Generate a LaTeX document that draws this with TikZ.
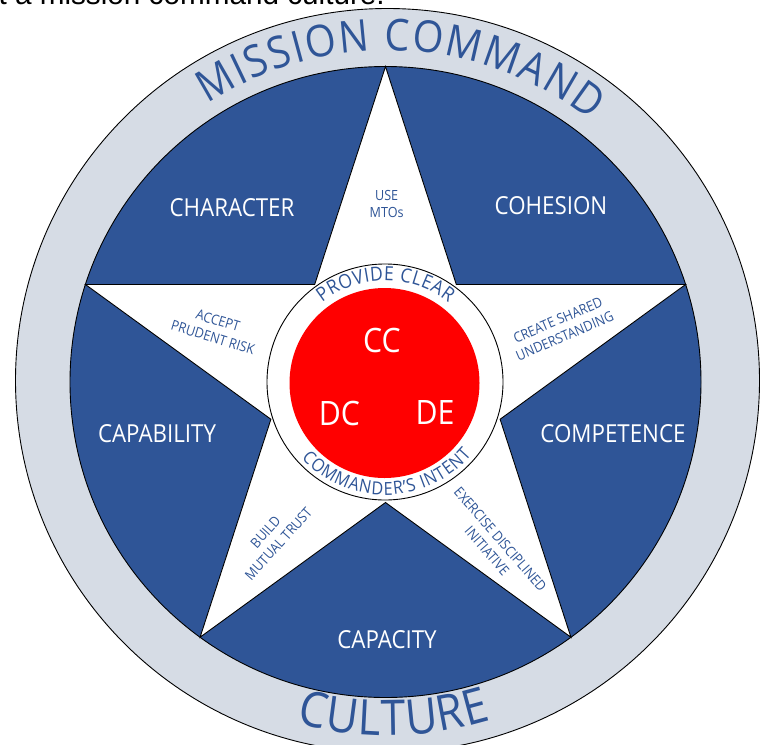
\documentclass[tikz,border=0pt]{standalone}
\usepackage{fontspec}
\setmainfont{Open Sans}[FakeStretch=0.9]
\newfontfamily\captionfont{Liberation Sans}
\usetikzlibrary{decorations.text}
\definecolor{mcblue}{RGB}{47,85,151}
\definecolor{ringgray}{RGB}{214,220,229}
\definecolor{mcred}{RGB}{255,0,0}
\begin{document}
\begin{tikzpicture}[x=1pt,y=1pt,
  region/.style={text=white,font=\fontsize{24.8}{25}\selectfont,inner sep=0},
  small/.style={text=mcblue,font=\fontsize{14}{17.5}\selectfont,align=center,inner sep=0},
  core/.style={text=white,font=\fontsize{33.6}{34}\selectfont,inner sep=0},
  outline/.style={draw=black,line width=0.9pt},
  arctext/.style={decorate,decoration={text along path,text color=mcblue,text align={fit to path},text={#1}}}]
\useasboundingbox (0,0) rectangle (765,-744);
\clip (0,0) rectangle (765,-744);
\coordinate (O) at (387.5,-380.5);
\coordinate (C) at (385.5,-382);
% outer ring
\filldraw[fill=ringgray,outline] (O) circle[radius=372pt];
% blue disk
\filldraw[fill=mcblue,outline] (C) circle[radius=315.5pt];
% star
\begin{scope}[shift={(385.5,-382)}]
\filldraw[fill=white,outline,line join=miter]
  (90:315.5pt) -- (54:120.5pt) -- (18:315.5pt) -- (-18:120.5pt) -- (-54:315.5pt)
  -- (-90:120.5pt) -- (-126:315.5pt) -- (-162:120.5pt) -- (162:315.5pt) -- (126:120.5pt) -- cycle;
\end{scope}
% inner ring and red core
\filldraw[fill=white,outline] (385,-382) circle[radius=118pt];
\fill[mcred] (384.5,-383) circle[radius=95pt];
% curved texts
\path[arctext={|\fontsize{44}{44}\selectfont|MISSION COMMAND}] (O) ++(123:330pt) arc[start angle=123,end angle=52,radius=330pt];
\path[arctext={|\fontsize{49}{49}\selectfont|CULTURE}] (O) ++(255.2:355pt) arc[start angle=255.2,end angle=287,radius=355pt];
\path[arctext={|\fontsize{19.5}{19.5}\selectfont|PROVIDE CLEAR}] (385,-382) ++(128.2:101.5pt) arc[start angle=128.2,end angle=51.3,radius=101.5pt];
\path[arctext={|\fontsize{18}{18}\selectfont|COMMANDER’S INTENT}] (385,-382) ++(222.4:113pt) arc[start angle=222.4,end angle=320,radius=113pt];
% caption fragment
\node[anchor=base east,inner sep=0,font=\captionfont\fontsize{29.7}{30}\selectfont] (cap) at (385,-4.7) {t a mission command culture.};
% region labels
\node[region] (character) at (232,-208) {CHARACTER};
\node[region] (cohesion) at (551,-206) {COHESION};
\node[region] (capability) at (157,-434) {CAPABILITY};
\node[region] (competence) at (613,-434) {COMPETENCE};
\node[region] (capacity) at (387,-640) {CAPACITY};
% core labels
\node[core] (cc) at (382,-340) {CC};
\node[core] (dc) at (339.5,-413) {DC};
\node[core] (de) at (435,-413) {DE};
% star-point labels
\node[small] (mto) at (386.7,-204) {USE\\MTOs};
\node[small,rotate=-17] (risk) at (215.4,-329) {ACCEPT\\PRUDENT RISK};
\node[small,rotate=23] (shared) at (561.3,-328) {CREATE SHARED\\UNDERSTANDING};
\node[small,rotate=48] (trust) at (272,-538) {BUILD\\MUTUAL TRUST};
\node[small,rotate=-49] (init) at (493.8,-545) {EXERCISE DISCIPLINED\\INITIATIVE};
\end{tikzpicture}
\end{document}
